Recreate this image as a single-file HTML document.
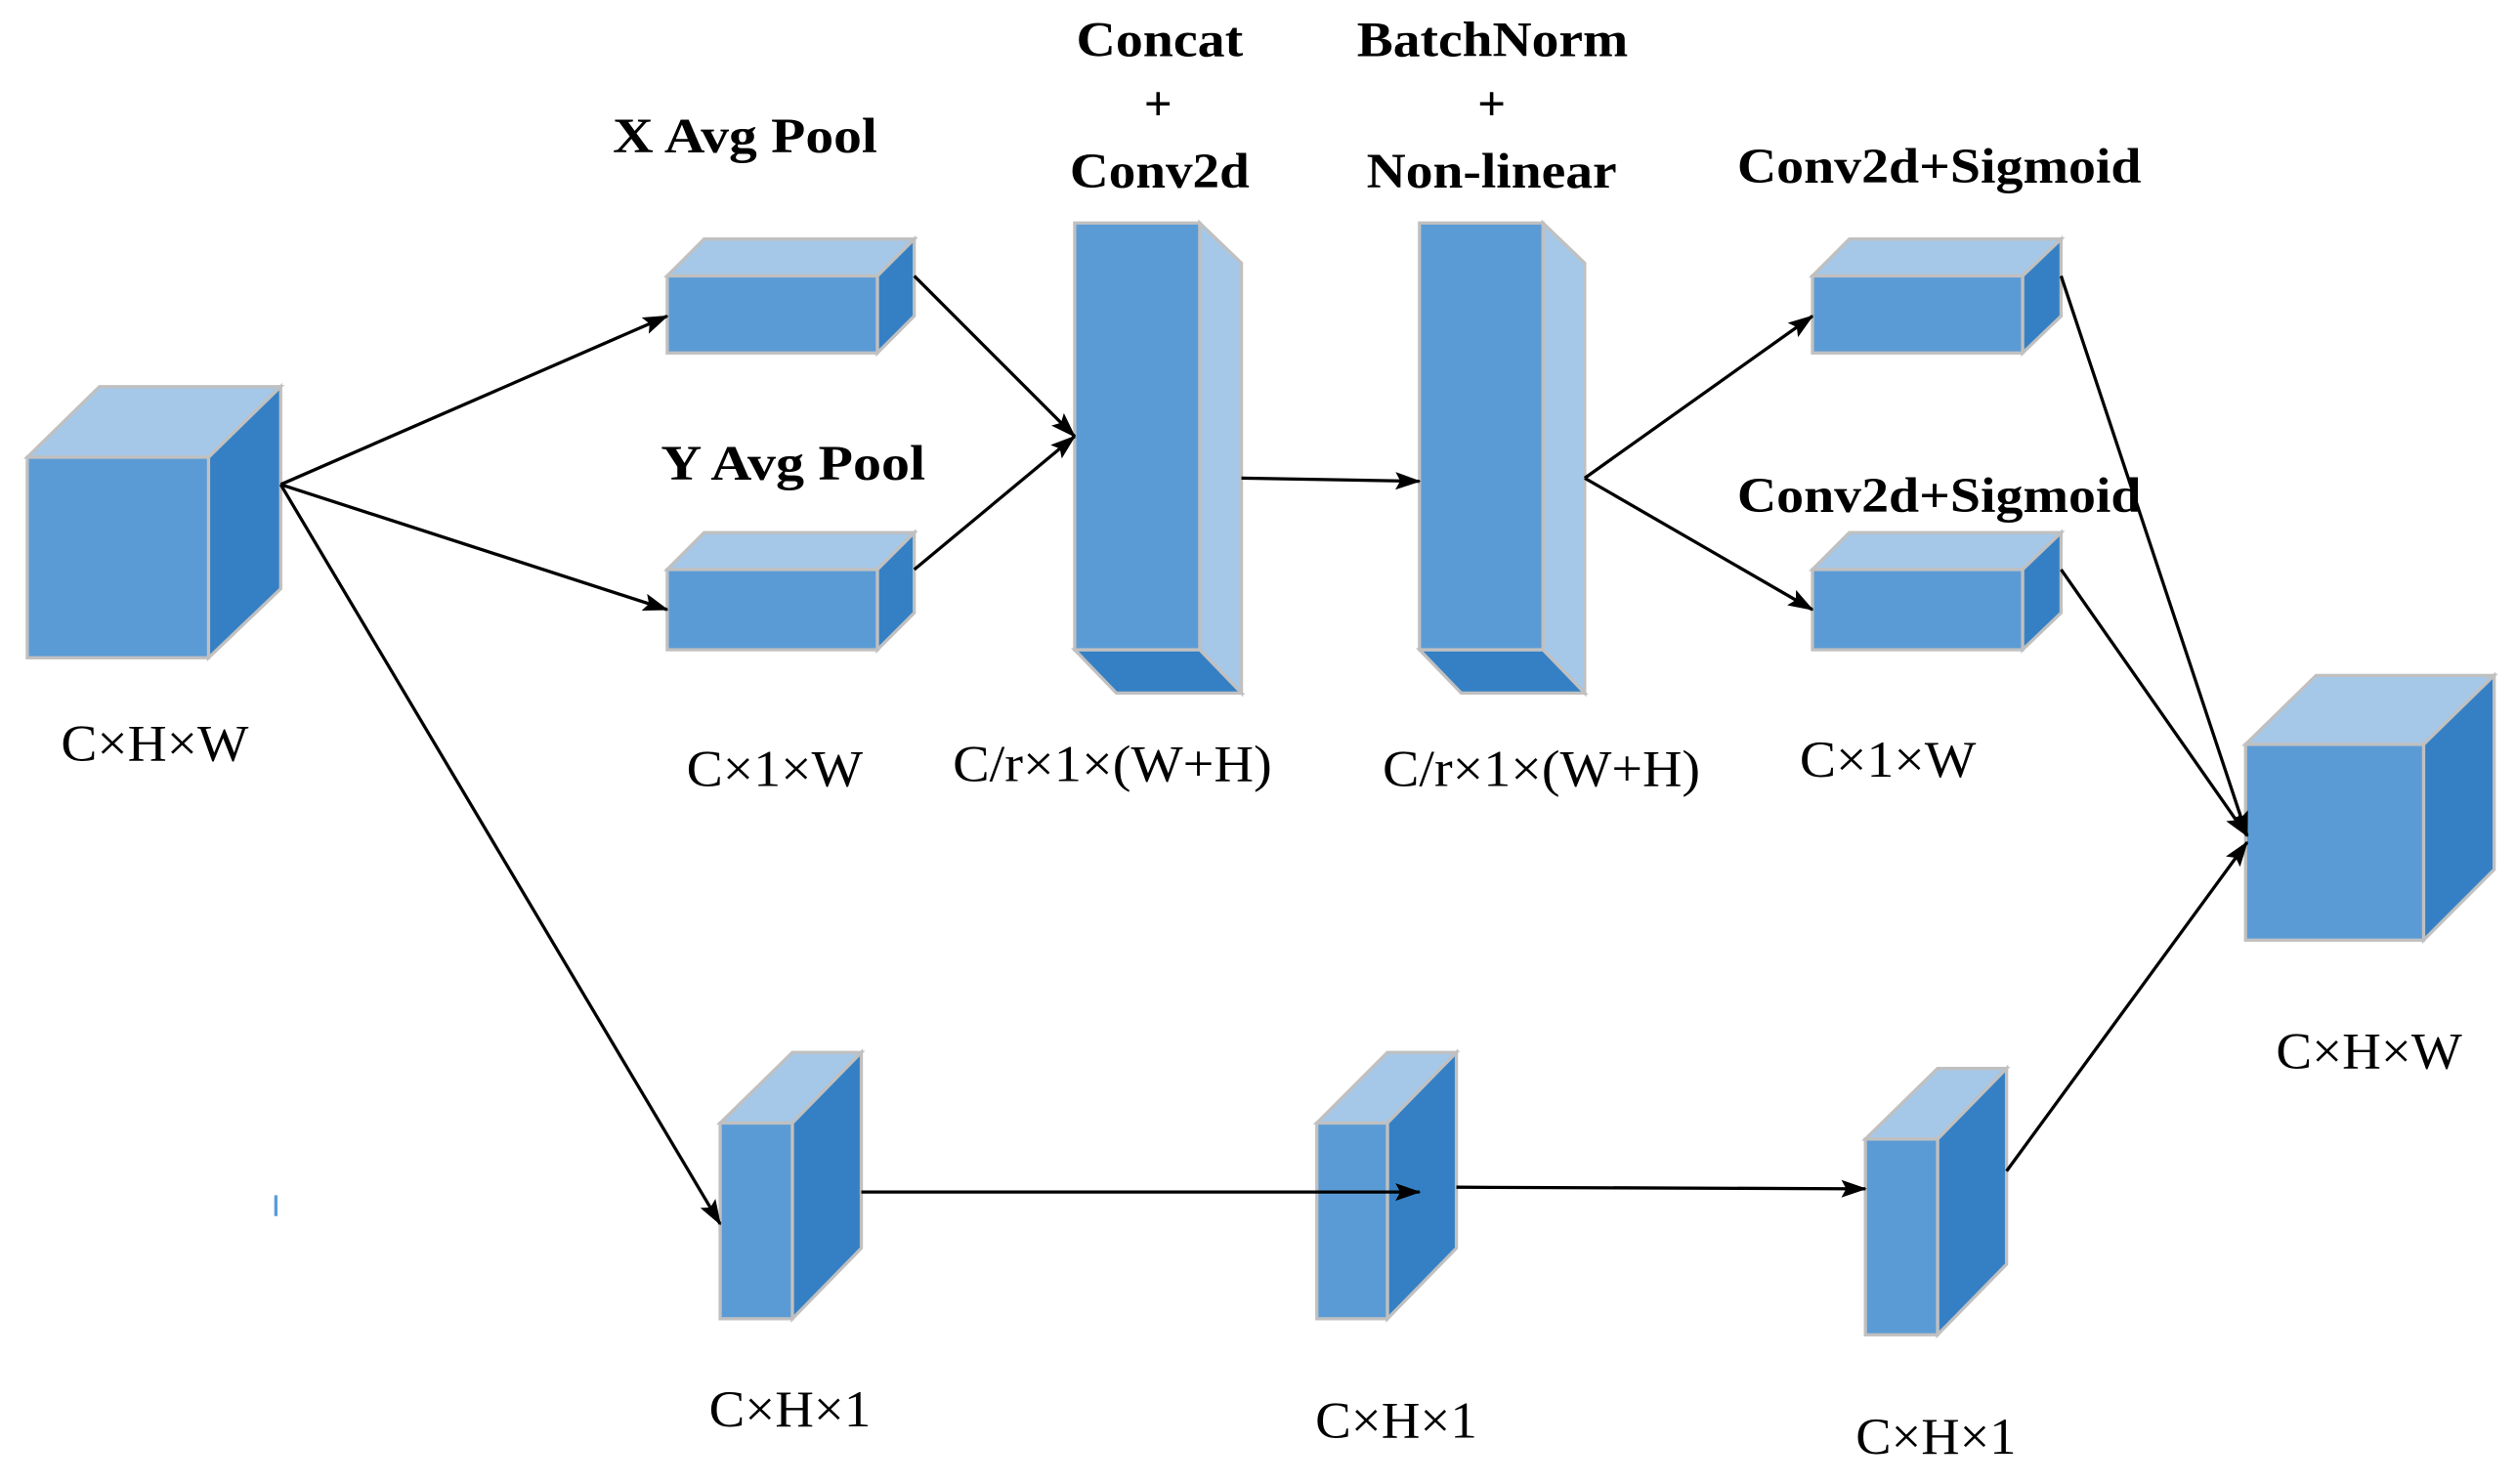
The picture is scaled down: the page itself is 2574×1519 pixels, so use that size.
<!DOCTYPE html>
<html><head><meta charset="utf-8"><style>html,body{margin:0;padding:0;background:#fff}svg{display:block}</style></head><body>
<svg width="2574" height="1519" viewBox="0 0 1568 925" preserveAspectRatio="none" xmlns="http://www.w3.org/2000/svg">
<defs><marker id="a" markerWidth="16" markerHeight="11" refX="15" refY="5.5" orient="auto" markerUnits="userSpaceOnUse"><path d="M0,0 L16,5.5 L0,11 L3,5.5 z" fill="#000"/></marker></defs>
<g stroke="#c0c0c0" stroke-width="2" stroke-linejoin="miter">
<polygon points="17,285 62,241 175,241 130,285" fill="#a5c8e8"/>
<polygon points="130,285 175,241 175,367 130,410" fill="#3580c5"/>
<rect x="17" y="285" width="113" height="125" fill="#5b9bd5"/>
<polygon points="416,172 439,149 570,149 547,172" fill="#a5c8e8"/>
<polygon points="547,172 570,149 570,197 547,220" fill="#3580c5"/>
<rect x="416" y="172" width="131" height="48" fill="#5b9bd5"/>
<polygon points="416,355 439,332 570,332 547,355" fill="#a5c8e8"/>
<polygon points="547,355 570,332 570,382 547,405" fill="#3580c5"/>
<rect x="416" y="355" width="131" height="50" fill="#5b9bd5"/>
<polygon points="748,139 774,164 774,432 748,405" fill="#a5c8e8"/>
<polygon points="670,405 696,432 774,432 748,405" fill="#3580c5"/>
<rect x="670" y="139" width="78" height="266" fill="#5b9bd5"/>
<polygon points="962,139 988,164 988,432 962,405" fill="#a5c8e8"/>
<polygon points="885,405 911,432 988,432 962,405" fill="#3580c5"/>
<rect x="885" y="139" width="77" height="266" fill="#5b9bd5"/>
<polygon points="1130,172 1153,149 1285,149 1261,172" fill="#a5c8e8"/>
<polygon points="1261,172 1285,149 1285,197 1261,220" fill="#3580c5"/>
<rect x="1130" y="172" width="131" height="48" fill="#5b9bd5"/>
<polygon points="1130,355 1153,332 1285,332 1261,355" fill="#a5c8e8"/>
<polygon points="1261,355 1285,332 1285,382 1261,405" fill="#3580c5"/>
<rect x="1130" y="355" width="131" height="50" fill="#5b9bd5"/>
<polygon points="1400,464 1444,421 1555,421 1511,464" fill="#a5c8e8"/>
<polygon points="1511,464 1555,421 1555,542 1511,586" fill="#3580c5"/>
<rect x="1400" y="464" width="111" height="122" fill="#5b9bd5"/>
<polygon points="449,700 494,656 537,656 494,700" fill="#a5c8e8"/>
<polygon points="494,700 537,656 537,778 494,822" fill="#3580c5"/>
<rect x="449" y="700" width="45" height="122" fill="#5b9bd5"/>
<polygon points="821,700 865,656 908,656 865,700" fill="#a5c8e8"/>
<polygon points="865,700 908,656 908,778 865,822" fill="#3580c5"/>
<rect x="821" y="700" width="44" height="122" fill="#5b9bd5"/>
<polygon points="1163,710 1208,666 1251,666 1208,710" fill="#a5c8e8"/>
<polygon points="1208,710 1251,666 1251,788 1208,832" fill="#3580c5"/>
<rect x="1163" y="710" width="45" height="122" fill="#5b9bd5"/>
</g>
<g stroke="#000" stroke-width="2" fill="none" marker-end="url(#a)">
<line x1="175" y1="302" x2="416" y2="197"/>
<line x1="175" y1="302" x2="416" y2="380"/>
<line x1="175" y1="302" x2="449" y2="763"/>
<line x1="570" y1="172" x2="670" y2="272"/>
<line x1="570" y1="355" x2="670" y2="272"/>
<line x1="774" y1="298" x2="885" y2="300"/>
<line x1="988" y1="298" x2="1130" y2="197"/>
<line x1="988" y1="298" x2="1130" y2="380"/>
<line x1="1285" y1="172" x2="1401" y2="521"/>
<line x1="1285" y1="355" x2="1401" y2="521"/>
<line x1="1251" y1="730" x2="1401" y2="525"/>
<line x1="537" y1="743" x2="885" y2="743"/>
<line x1="908" y1="740" x2="1163" y2="741"/>
</g>
<line x1="172" y1="745" x2="172" y2="758" stroke="#5b9bd5" stroke-width="2"/>
<g font-family="Liberation Serif, serif" font-weight="bold" font-size="31" fill="#000" lengthAdjust="spacingAndGlyphs">
<text x="382" y="95" textLength="165" lengthAdjust="spacingAndGlyphs">X Avg Pool</text>
<text x="412" y="299" textLength="165" lengthAdjust="spacingAndGlyphs">Y Avg Pool</text>
<text x="671" y="35" textLength="104" lengthAdjust="spacingAndGlyphs">Concat</text>
<text x="722" y="75" text-anchor="middle">+</text>
<text x="667" y="117" textLength="112" lengthAdjust="spacingAndGlyphs">Conv2d</text>
<text x="846" y="35" textLength="169" lengthAdjust="spacingAndGlyphs">BatchNorm</text>
<text x="930" y="75" text-anchor="middle">+</text>
<text x="852" y="117" textLength="156" lengthAdjust="spacingAndGlyphs">Non-linear</text>
<text x="1083" y="114" textLength="252" lengthAdjust="spacingAndGlyphs">Conv2d+Sigmoid</text>
<text x="1083" y="319" textLength="252" lengthAdjust="spacingAndGlyphs">Conv2d+Sigmoid</text>
</g>
<g font-family="Liberation Serif, serif" font-size="32" fill="#000">
<text x="38" y="474" textLength="117" lengthAdjust="spacingAndGlyphs">C×H×W</text>
<text x="428" y="490" textLength="110" lengthAdjust="spacingAndGlyphs">C×1×W</text>
<text x="594" y="487" textLength="199" lengthAdjust="spacingAndGlyphs">C/r×1×(W+H)</text>
<text x="862" y="490" textLength="198" lengthAdjust="spacingAndGlyphs">C/r×1×(W+H)</text>
<text x="1122" y="484" textLength="110" lengthAdjust="spacingAndGlyphs">C×1×W</text>
<text x="1419" y="666" textLength="116" lengthAdjust="spacingAndGlyphs">C×H×W</text>
<text x="442" y="889" textLength="101" lengthAdjust="spacingAndGlyphs">C×H×1</text>
<text x="820" y="896" textLength="101" lengthAdjust="spacingAndGlyphs">C×H×1</text>
<text x="1157" y="906" textLength="100" lengthAdjust="spacingAndGlyphs">C×H×1</text>
</g>
</svg>
</body></html>
